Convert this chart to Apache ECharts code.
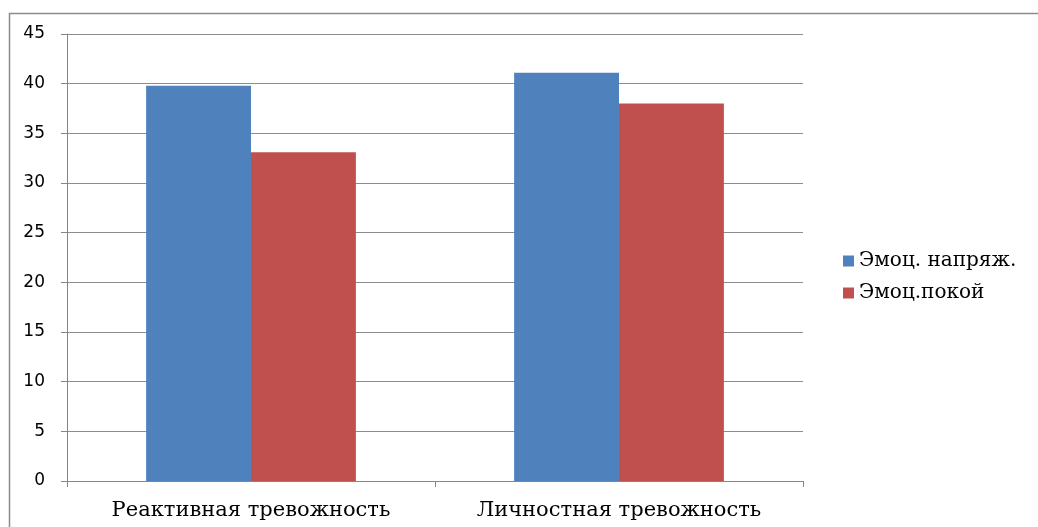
<!DOCTYPE html>
<html lang="ru">
<head>
  <meta charset="UTF-8">
  <title>Тревожность</title>
  <script src="https://cdn.jsdelivr.net/npm/echarts@6/dist/echarts.min.js"></script>
  <style>
    html, body { margin: 0; padding: 0; background: #fff; }
  </style>
</head>
<body>
  <div id="chart" style="width: 1038px; height: 527px;"></div>

  <script>
    // данные
    const categories = ['Реактивная тревожность', 'Личностная тревожность']
    const seriesNames = ['Эмоц. напряж.', 'Эмоц.покой']
    const tension = [39.8, 41.1]
    const calm = [33.1, 38.0]

    const chart = echarts.init(document.getElementById('chart'), null, {renderer: 'canvas'})
    chart.setOption({
      animation: false,
      // рамка вокруг диаграммы
      graphic: [{
        type: 'rect',
        shape: {x: 9.5, y: 13.5, width: 1200, height: 700},
        style: {fill: 'none', stroke: '#8c8c8c', lineWidth: 1.5},
        silent: true
      }],
      legend: {
        orient: 'vertical',
        left: 838,
        top: 246,
        itemWidth: 11,
        itemHeight: 11,
        itemGap: 12,
        icon: 'rect',
        data: seriesNames,
        textStyle: {
          fontFamily: 'DejaVu Serif',
          fontSize: 20,
          color: '#000'
        }
      },
      grid: {
        left: 67,
        right: 235,
        top: 34,
        bottom: 46,
        containLabel: false
      },
      xAxis: {
        type: 'category',
        data: categories,
        axisLine: {lineStyle: {color: '#868686', width: 1}},
        axisTick: {show: true, interval: 0, length: 6, lineStyle: {color: '#868686'}},
        axisLabel: {
          interval: 0,
          hideOverlap: false,
          fontFamily: 'DejaVu Serif',
          fontSize: 21,
          color: '#000',
          margin: 19
        }
      },
      yAxis: {
        type: 'value',
        min: 0,
        max: 45,
        interval: 5,
        axisLine: {show: true, lineStyle: {color: '#868686', width: 1}},
        axisTick: {show: true, length: 6, lineStyle: {color: '#868686'}},
        splitLine: {lineStyle: {color: '#8c8c8c', width: 1}},
        axisLabel: {
          fontFamily: 'DejaVu Sans',
          fontSize: 17,
          color: '#000',
          margin: 22
        }
      },
      series: [{
        name: seriesNames[0],
        type: 'bar',
        data: tension,
        barGap: '0%',
        barCategoryGap: '43%',
        itemStyle: {color: '#4f81bd'}
      }, {
        name: seriesNames[1],
        type: 'bar',
        data: calm,
        barGap: '0%',
        barCategoryGap: '43%',
        itemStyle: {color: '#c0504d'}
      }]
    })
  </script>
</body>
</html>
